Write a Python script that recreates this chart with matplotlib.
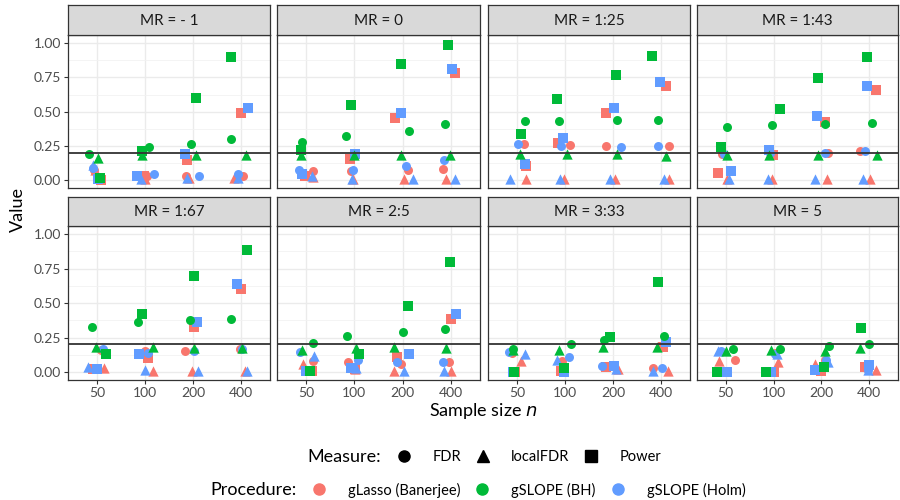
import numpy as np
import matplotlib
matplotlib.use("Agg")
import matplotlib.pyplot as plt
from matplotlib.lines import Line2D

plt.rcParams['font.family'] = ['Lato', 'DejaVu Sans']

panels = ['MR = - 1', 'MR = 0', 'MR = 1:25', 'MR = 1:43',
          'MR = 1:67', 'MR = 2:5', 'MR = 3:33', 'MR = 5']
sample_sizes = ['50', '100', '200', '400']
procedures = ['gLasso (Banerjee)', 'gSLOPE (BH)', 'gSLOPE (Holm)']
measures = ['FDR', 'localFDR', 'Power']
target_fdr = 0.2

# rows = panels, columns = sample sizes
glasso_fdr = [[0.07, 0.03, 0.027, 0.027], [0.063, 0.063, 0.07, 0.08],
              [0.26, 0.257, 0.25, 0.25], [0.19, 0.19, 0.20, 0.215],
              [0.16, 0.15, 0.15, 0.17], [0.08, 0.07, 0.06, 0.07],
              [0.14, 0.08, 0.045, 0.03], [0.09, 0.14, 0.085, 0.03]]
bh_fdr = [[0.19, 0.24, 0.26, 0.30], [0.28, 0.32, 0.355, 0.41],
          [0.43, 0.435, 0.44, 0.44], [0.385, 0.40, 0.41, 0.415],
          [0.33, 0.36, 0.375, 0.385], [0.21, 0.26, 0.29, 0.31],
          [0.17, 0.205, 0.235, 0.26], [0.17, 0.165, 0.19, 0.205]]
holm_fdr = [[0.09, 0.046, 0.027, 0.046], [0.075, 0.07, 0.10, 0.15],
            [0.26, 0.25, 0.245, 0.25], [0.19, 0.20, 0.20, 0.213],
            [0.165, 0.14, 0.15, 0.17], [0.145, 0.09, 0.07, 0.075],
            [0.145, 0.11, 0.045, 0.03], [0.15, 0.13, 0.09, 0.015]]

glasso_lfdr = [[0.07, 0.01, 0.015, 0.015], [0.02, 0.01, 0.01, 0.01],
               [0.01, 0.01, 0.01, 0.01], [0.01, 0.01, 0.01, 0.01],
               [0.03, 0.007, 0.007, 0.007], [0.06, 0.02, 0.005, 0.005],
               [0.08, 0.06, 0.02, 0.007], [0.08, 0.075, 0.06, 0.015]]
bh_lfdr = [[0.16, 0.18, 0.18, 0.18], [0.18, 0.18, 0.18, 0.18],
           [0.19, 0.19, 0.19, 0.175], [0.18, 0.18, 0.185, 0.18],
           [0.18, 0.18, 0.175, 0.175], [0.16, 0.175, 0.18, 0.175],
           [0.16, 0.16, 0.18, 0.18], [0.155, 0.16, 0.155, 0.175]]
holm_lfdr = [[0.11, 0.01, 0.015, 0.015], [0.03, 0.01, 0.01, 0.01],
             [0.01, 0.01, 0.01, 0.01], [0.01, 0.01, 0.01, 0.01],
             [0.036, 0.015, 0.007, 0.007], [0.115, 0.03, 0.005, 0.005],
             [0.13, 0.085, 0.025, 0.007], [0.15, 0.13, 0.07, 0.015]]

glasso_power = [[0.0, 0.027, 0.15, 0.49], [0.03, 0.155, 0.45, 0.78],
                [0.105, 0.27, 0.49, 0.69], [0.05, 0.185, 0.425, 0.66],
                [0.02, 0.105, 0.33, 0.60], [0.005, 0.02, 0.11, 0.385],
                [0.0, 0.007, 0.04, 0.185], [0.0, 0.0, 0.01, 0.036]]
bh_power = [[0.015, 0.21, 0.60, 0.90], [0.22, 0.55, 0.85, 0.985],
            [0.34, 0.59, 0.77, 0.905], [0.24, 0.52, 0.745, 0.90],
            [0.13, 0.42, 0.70, 0.885], [0.005, 0.13, 0.48, 0.80],
            [0.0, 0.03, 0.255, 0.65], [0.0, 0.0, 0.04, 0.32]]
holm_power = [[0.01, 0.03, 0.19, 0.53], [0.046, 0.19, 0.49, 0.815],
              [0.12, 0.305, 0.525, 0.72], [0.063, 0.22, 0.465, 0.69],
              [0.02, 0.13, 0.365, 0.64], [0.005, 0.027, 0.13, 0.42],
              [0.0, 0.0, 0.045, 0.215], [0.0, 0.0, 0.015, 0.05]]

# horizontal jitter of each point (in category units)
glasso_fdr_jit = [[-0.06, 0.05, -0.14, 0.03], [0.15, -0.06, 0.12, -0.16],
                  [0.15, 0.10, -0.15, 0.17], [-0.07, -0.06, 0.14, -0.19],
                  [0.08, 0.01, -0.17, -0.03], [0.15, -0.14, -0.03, -0.04],
                  [-0.10, -0.07, -0.20, -0.17], [0.19, 0.03, 0.07, -0.07]]
bh_fdr_jit = [[-0.16, 0.08, -0.04, -0.21], [-0.09, -0.18, 0.14, -0.12],
              [0.17, -0.12, 0.08, -0.07], [0.03, -0.03, 0.07, 0.06],
              [-0.10, -0.14, -0.06, -0.21], [0.15, -0.15, 0.01, -0.12],
              [-0.07, 0.12, -0.19, 0.05], [0.15, 0.14, 0.15, -0.01]]
holm_fdr_jit = [[-0.09, 0.19, 0.12, -0.07], [-0.14, -0.03, 0.06, -0.15],
                [0.03, -0.09, 0.16, -0.06], [-0.03, -0.08, 0.07, -0.08],
                [0.12, 0.06, 0.03, 0.01], [-0.12, 0.07, -0.11, -0.16],
                [-0.16, 0.08, -0.23, 0.02], [-0.10, 0.03, 0.09, -0.03]]
glasso_lfdr_jit = [[-0.03, 0.01, -0.09, -0.14], [0.14, -0.03, 0.03, -0.10],
                   [0.19, -0.02, 0.05, 0.17], [0.02, -0.03, 0.12, 0.01],
                   [0.14, 0.17, -0.02, 0.07], [-0.07, 0.02, -0.18, -0.01],
                   [0.09, -0.07, 0.10, 0.14], [-0.14, 0.10, -0.14, 0.15]]
bh_lfdr_jit = [[0.03, -0.06, 0.06, 0.10], [-0.10, 0.0, -0.03, -0.02],
               [0.06, 0.05, 0.09, 0.10], [0.03, -0.10, -0.07, 0.17],
               [-0.02, 0.17, 0.01, 0.01], [-0.09, 0.03, -0.17, -0.10],
               [-0.09, -0.12, -0.21, -0.08], [0.0, -0.06, 0.07, -0.19]]
holm_lfdr_jit = [[-0.09, -0.09, -0.12, -0.06], [0.12, -0.05, 0.21, 0.08],
                 [-0.15, -0.10, -0.07, 0.06], [0.07, -0.12, -0.14, -0.14],
                 [-0.18, 0.01, 0.10, 0.12], [0.17, 0.03, 0.03, -0.14],
                 [0.16, -0.17, 0.07, -0.17], [-0.17, 0.07, 0.14, -0.03]]
glasso_power_jit = [[0.08, -0.02, -0.12, 0.0], [-0.03, -0.10, -0.16, 0.08],
                    [0.19, -0.15, -0.15, 0.10], [-0.17, -0.01, 0.07, 0.15],
                    [-0.08, 0.07, 0.03, -0.01], [0.12, 0.02, -0.11, 0.01],
                    [-0.03, -0.09, -0.14, 0.03], [-0.03, 0.0, 0.0, -0.10]]
bh_power_jit = [[0.06, -0.06, 0.06, -0.22], [-0.10, -0.06, -0.03, -0.07],
                [0.09, -0.17, 0.07, -0.19], [-0.10, 0.14, -0.08, -0.05],
                [0.19, -0.07, 0.01, 0.12], [0.08, 0.09, 0.10, -0.03],
                [-0.06, -0.02, -0.07, -0.06], [-0.19, -0.16, 0.05, -0.17]]
holm_power_jit = [[0.03, -0.17, -0.16, 0.14], [-0.08, 0.01, -0.03, 0.03],
                  [0.17, -0.04, 0.03, -0.03], [0.10, -0.10, -0.10, -0.05],
                  [0.01, -0.12, 0.08, -0.08], [0.0, -0.07, 0.13, 0.10],
                  [-0.07, -0.03, 0.03, 0.10], [0.02, -0.06, -0.14, 0.0]]

colors = {'gLasso (Banerjee)': '#F8766D', 'gSLOPE (BH)': '#00BA38',
          'gSLOPE (Holm)': '#619CFF'}
shapes = {'FDR': ('o', 42), 'localFDR': ('^', 55), 'Power': ('s', 42)}

series = [
    ('gLasso (Banerjee)', 'FDR', glasso_fdr, glasso_fdr_jit),
    ('gLasso (Banerjee)', 'localFDR', glasso_lfdr, glasso_lfdr_jit),
    ('gLasso (Banerjee)', 'Power', glasso_power, glasso_power_jit),
    ('gSLOPE (Holm)', 'FDR', holm_fdr, holm_fdr_jit),
    ('gSLOPE (Holm)', 'localFDR', holm_lfdr, holm_lfdr_jit),
    ('gSLOPE (Holm)', 'Power', holm_power, holm_power_jit),
    ('gSLOPE (BH)', 'FDR', bh_fdr, bh_fdr_jit),
    ('gSLOPE (BH)', 'localFDR', bh_lfdr, bh_lfdr_jit),
    ('gSLOPE (BH)', 'Power', bh_power, bh_power_jit),
]

W, H = 900, 500
fig = plt.figure(figsize=(W / 100, H / 100), dpi=100)


def px_axes(x0, y0, x1, y1):
    return fig.add_axes([x0 / W, 1 - y1 / H, (x1 - x0) / W, (y1 - y0) / H])


col_x = [(68, 270), (277, 480), (488, 690), (697, 898)]
row_y = [(5, 35, 188), (197, 226, 380)]
border = '#333333'
xpos = np.arange(1, len(sample_sizes) + 1)

for k, title in enumerate(panels):
    r, c = divmod(k, 4)
    x0, x1 = col_x[c]
    ys, yp, yb = row_y[r]

    ax = px_axes(x0, yp, x1, yb)
    ax.set_xlim(0.4, 4.6)
    ax.set_ylim(-0.058, 1.06)
    ax.set_yticks([0, 0.25, 0.5, 0.75, 1.0])
    ax.set_yticks([0.125, 0.375, 0.625, 0.875], minor=True)
    ax.set_xticks(xpos)
    ax.grid(True, which='major', color='#EBEBEB', lw=1.0)
    ax.grid(True, which='minor', axis='y', color='#F2F2F2', lw=0.6)
    ax.set_axisbelow(True)
    ax.tick_params(which='minor', length=0)
    ax.tick_params(which='major', length=3, color=border, width=0.8,
                   labelsize=10, labelcolor='#4D4D4D', pad=2)
    for s in ax.spines.values():
        s.set_color(border)
        s.set_linewidth(0.9)

    if c == 0:
        ax.set_yticklabels(['0.00', '0.25', '0.50', '0.75', '1.00'])
    else:
        ax.set_yticklabels([])
        ax.tick_params(axis='y', length=0)
    if r == 1:
        ax.set_xticklabels(sample_sizes)
    else:
        ax.set_xticklabels([])
        ax.tick_params(axis='x', length=0)

    for proc, meas, vals, jit in series:
        m, sz = shapes[meas]
        ax.scatter(xpos + np.array(jit[k]), vals[k], marker=m, s=sz,
                   color=colors[proc], linewidths=0, zorder=3)

    ax.axhline(target_fdr, color='#333333', lw=1.3, zorder=4)

    sa = px_axes(x0, ys, x1, yp)
    sa.set_facecolor('#D9D9D9')
    sa.set_xticks([])
    sa.set_yticks([])
    for s in sa.spines.values():
        s.set_color(border)
        s.set_linewidth(0.9)
    sa.text(0.5, 0.47, title, ha='center', va='center', fontsize=11,
            color='#1A1A1A', transform=sa.transAxes)

fig.text(18 / W, 1 - 210 / H, 'Value', rotation=90, ha='center', va='center',
         fontsize=13)
fig.text(483 / W, 1 - 411 / H, 'Sample size $n$', ha='center', va='center',
         fontsize=13)

# legends: one row per aesthetic
fig.text(381 / W, 1 - 457 / H, 'Measure:', ha='right', va='center', fontsize=13)
meas_handles = [Line2D([], [], ls='none', marker=shapes[m][0], color='black',
                       markersize=8) for m in measures]
fig.legend(meas_handles, measures, ncol=3, frameon=False, fontsize=10.5,
           loc='center left', bbox_to_anchor=(395 / W, 1 - 457 / H),
           handletextpad=1.35, columnspacing=0.9, handlelength=1.2,
           borderaxespad=0, borderpad=0)

fig.text(297 / W, 1 - 490 / H, 'Procedure:', ha='right', va='center', fontsize=13)
proc_handles = [Line2D([], [], ls='none', marker='o', color=colors[p],
                       markersize=8) for p in procedures]
fig.legend(proc_handles, procedures, ncol=3, frameon=False, fontsize=10.5,
           loc='center left', bbox_to_anchor=(310 / W, 1 - 490 / H),
           handletextpad=1.4, columnspacing=0.9, handlelength=1.2,
           borderaxespad=0, borderpad=0)

fig.savefig('out.png', dpi=100)
